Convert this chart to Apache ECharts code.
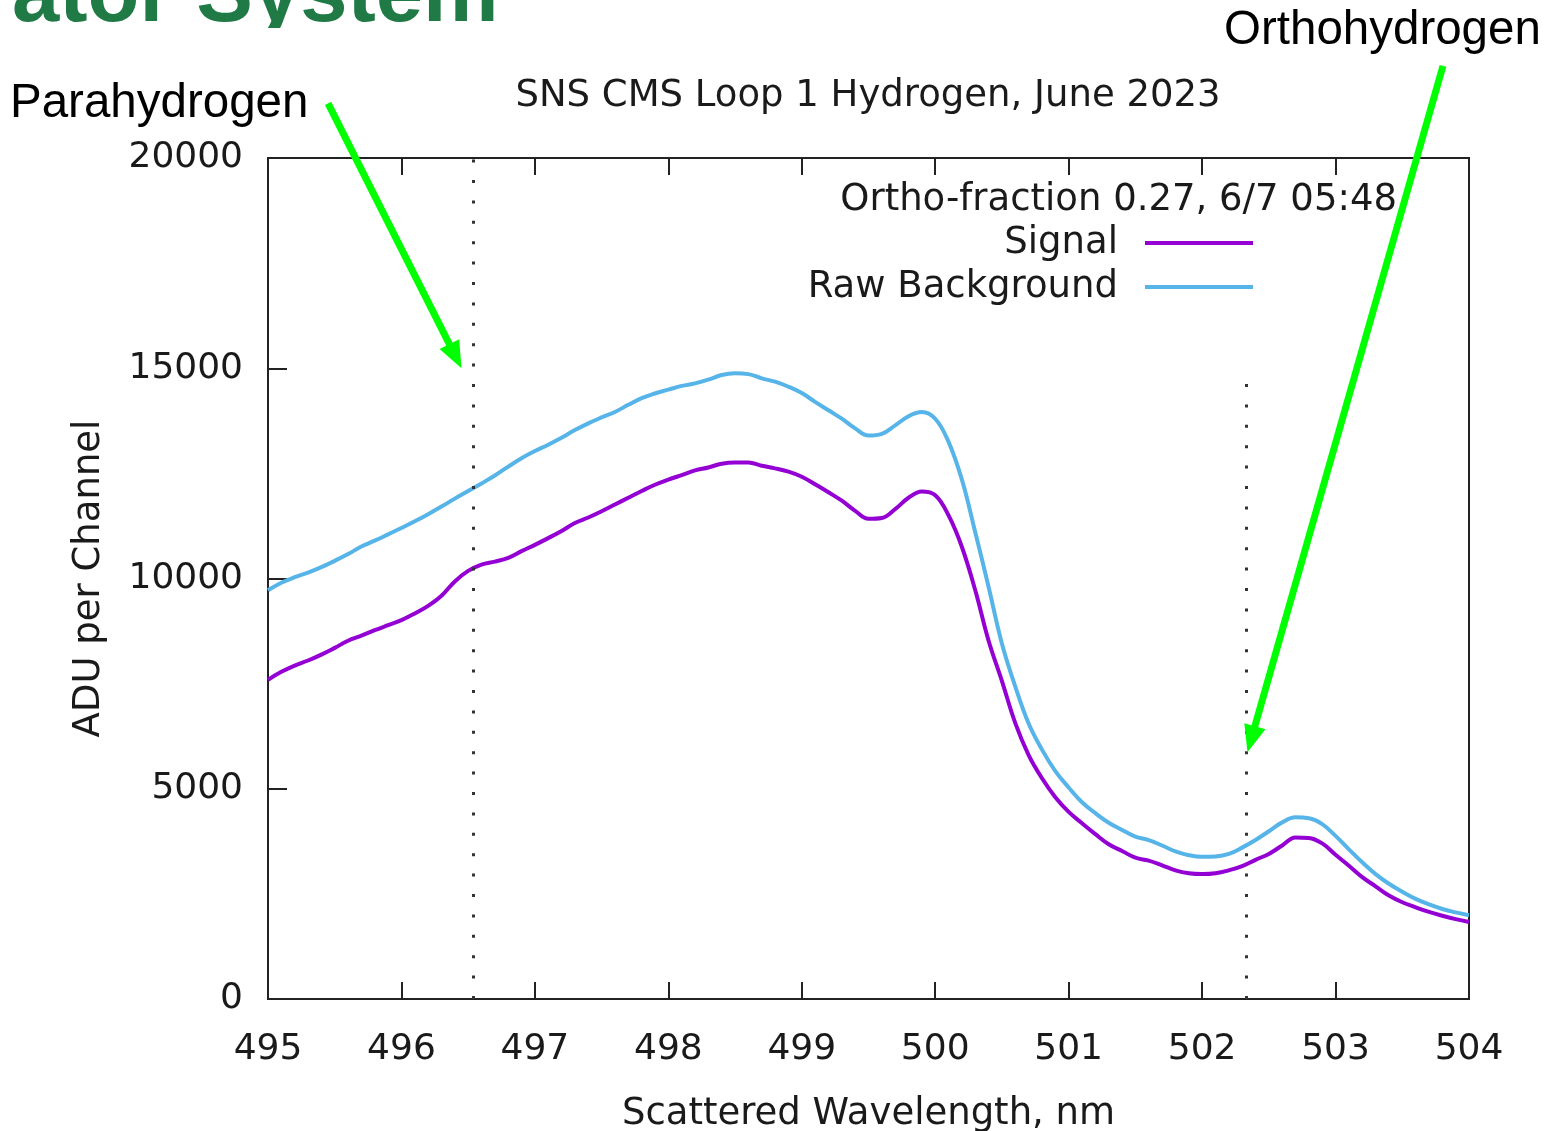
<!DOCTYPE html>
<html>
<head>
<meta charset="utf-8">
<script src="https://cdn.jsdelivr.net/npm/echarts@6/dist/echarts.min.js"></script>
<style>
html,body{margin:0;padding:0;background:#fff;}
#chart{width:1566px;height:1131px;}
</style>
</head>
<body>
<div id="chart"></div>
<script>
// ---- data ----
var wavelength = [
 495.0,495.1,495.2,495.3,495.4,495.5,495.6,495.7,495.8,495.9,
 496.0,496.1,496.2,496.3,496.4,496.5,496.6,496.7,496.8,496.9,
 497.0,497.1,497.2,497.3,497.4,497.5,497.6,497.7,497.8,497.9,
 498.0,498.1,498.2,498.3,498.4,498.5,498.6,498.7,498.8,498.9,
 499.0,499.1,499.2,499.3,499.4,499.5,499.6,499.7,499.8,499.9,
 500.0,500.1,500.2,500.3,500.4,500.5,500.6,500.7,500.8,500.9,
 501.0,501.1,501.2,501.3,501.4,501.5,501.6,501.7,501.8,501.9,
 502.0,502.1,502.2,502.3,502.4,502.5,502.6,502.7,502.8,502.9,
 503.0,503.1,503.2,503.3,503.4,503.5,503.6,503.7,503.8,503.9,
 504.0
];
var signal = [
 7590,7780,7930,8050,8190,8350,8520,8640,8770,8890,
 9010,9170,9350,9590,9930,10180,10330,10400,10490,10650,
 10800,10960,11130,11320,11450,11600,11760,11920,12080,12230,
 12350,12460,12570,12640,12730,12760,12760,12680,12620,12540,
 12420,12240,12050,11850,11610,11420,11440,11650,11920,12070,
 11980,11500,10750,9720,8520,7560,6560,5800,5250,4800,
 4450,4180,3920,3680,3520,3360,3290,3180,3060,2990,
 2970,2990,3060,3160,3310,3450,3650,3840,3830,3700,
 3430,3170,2900,2680,2460,2300,2180,2070,1980,1900,
 1830
];
var rawBackground = [
 9720,9900,10030,10140,10270,10420,10580,10760,10900,11050,
 11200,11360,11530,11710,11900,12080,12260,12450,12660,12860,
 13030,13180,13350,13530,13690,13830,13960,14130,14290,14400,
 14490,14580,14640,14730,14840,14880,14860,14760,14680,14560,
 14410,14200,14000,13800,13570,13400,13440,13640,13860,13960,
 13800,13250,12350,11100,9800,8450,7430,6550,5930,5420,
 5030,4680,4420,4190,4020,3860,3780,3650,3510,3420,
 3380,3390,3450,3600,3780,3990,4200,4320,4300,4160,
 3880,3560,3250,2970,2740,2550,2380,2250,2140,2060,
 1990
];
var seriesNames = ['Signal', 'Raw Background'];
var xTicks = [495, 496, 497, 498, 499, 500, 501, 502, 503, 504];
var yTicks = [0, 5000, 10000, 15000, 20000];
var lineMarks = [496.54, 502.33];          // dotted reference lines (nm)
var lineMarkTops = [20000, 14700];         // their upper ends (ADU)
var chartTitle = 'SNS CMS Loop 1 Hydrogen, June 2023';
var keyTitle = 'Ortho-fraction 0.27, 6/7 05:48';
var xName = 'Scattered Wavelength, nm';
var yName = 'ADU per Channel';
// annotation arrows: [start, tip] in data coordinates
var paraArrow = [[495.45, 21300], [496.45, 15000]];
var orthoArrow = [[503.805, 22190], [502.34, 5870]];

// ---- build ----
function pairs(xs, ys) { return xs.map(function (x, i) { return [x, ys[i]]; }); }
var FONT = '"DejaVu Sans", sans-serif';
var TXT = '#1a1a1a';
var AX = '#222';

var chart = echarts.init(document.getElementById('chart'), null, {renderer: 'canvas'});

var axisCommon = {
  type: 'value',
  axisLine: {show: true, onZero: false, lineStyle: {color: AX, width: 2}},
  axisTick: {show: true, inside: true, lineStyle: {color: AX, width: 2}},
  splitLine: {show: false},
  minorTick: {show: false}
};

var option = {
  animation: false,
  backgroundColor: '#fff',
  title: [
    {text: chartTitle, left: 868, top: 78, textAlign: 'center', padding: 0,
     textStyle: {fontSize: 37, fontWeight: 'normal', fontFamily: FONT, color: TXT}},
    {text: keyTitle, left: 1397, top: 182, textAlign: 'right', padding: 0,
     textStyle: {fontSize: 37, fontWeight: 'normal', fontFamily: FONT, color: TXT}}
  ],
  legend: {
    data: seriesNames.map(function (n) { return {name: n, icon: 'rect'}; }),
    orient: 'vertical',
    align: 'right',
    right: 313,
    top: 221,
    padding: 0,
    itemGap: 0,
    itemWidth: 108,
    itemHeight: 4,
    selectedMode: false,
    textStyle: {fontSize: 37, fontFamily: FONT, color: TXT, lineHeight: 44, padding: [0, 22, 0, 0]}
  },
  grid: {left: 268, top: 158, right: 97, bottom: 132, containLabel: false, outerBoundsMode: 'none',
         show: true, borderColor: AX, borderWidth: 2, backgroundColor: 'transparent'},
  xAxis: [
    Object.assign({}, axisCommon, {
      position: 'bottom', min: xTicks[0], max: xTicks[xTicks.length - 1], interval: 1,
      axisTick: {show: true, inside: true, length: 17, lineStyle: {color: AX, width: 2}},
      axisLabel: {show: true, fontSize: 36, fontFamily: FONT, color: TXT, margin: 33,
                  showMinLabel: true, showMaxLabel: true, hideOverlap: false,
                  formatter: function (v) { return String(v); }},
      name: xName, nameLocation: 'middle', nameGap: 97,
      nameTextStyle: {fontSize: 37, fontFamily: FONT, color: TXT}
    }),
    Object.assign({}, axisCommon, {
      position: 'top', min: xTicks[0], max: xTicks[xTicks.length - 1], interval: 1,
      axisTick: {show: true, inside: true, length: 17, lineStyle: {color: AX, width: 2}},
      axisLabel: {show: false}
    })
  ],
  yAxis: [
    Object.assign({}, axisCommon, {
      position: 'left', min: yTicks[0], max: yTicks[yTicks.length - 1], interval: 5000,
      axisTick: {show: true, inside: true, length: 19, lineStyle: {color: AX, width: 2}},
      axisLabel: {show: true, fontSize: 36, fontFamily: FONT, color: TXT, margin: 25,
                  padding: [6, 0, 0, 0],
                  showMinLabel: true, showMaxLabel: true, hideOverlap: false,
                  formatter: function (v) { return String(v); }},
      name: yName, nameLocation: 'middle', nameGap: 160, nameRotate: 90,
      nameTextStyle: {fontSize: 37, fontFamily: FONT, color: TXT}
    })
  ],
  series: [
    {
      name: seriesNames[0], type: 'line', xAxisIndex: 0, yAxisIndex: 0,
      data: pairs(wavelength, signal),
      symbol: 'none', showSymbol: false, smooth: 0.4, clip: true,
      color: '#9400d3',
      lineStyle: {color: '#9400d3', width: 4},
      markLine: {
        silent: true, symbol: ['none', 'none'], animation: false,
        label: {show: false},
        lineStyle: {color: '#333', width: 3, type: [3, 17.4]},
        data: lineMarks.map(function (x, i) {
          return [{coord: [x, 0]}, {coord: [x, lineMarkTops[i]]}];
        })
      }
    },
    {
      name: seriesNames[1], type: 'line', xAxisIndex: 0, yAxisIndex: 0,
      data: pairs(wavelength, rawBackground),
      symbol: 'none', showSymbol: false, smooth: 0.4, clip: true,
      color: '#56b4e9',
      lineStyle: {color: '#56b4e9', width: 4}
    }
  ]
};
chart.setOption(option);

// ---- annotation overlay (slide text + green arrows) ----
function arrowEls(arrow) {
  var s = chart.convertToPixel({gridIndex: 0}, arrow[0]);
  var t = chart.convertToPixel({gridIndex: 0}, arrow[1]);
  var dx = t[0] - s[0], dy = t[1] - s[1];
  var len = Math.sqrt(dx * dx + dy * dy);
  var ux = dx / len, uy = dy / len;
  var nx = -uy, ny = ux;
  var L = 27, W = 11;
  var bx = t[0] - L * ux, by = t[1] - L * uy;
  return [
    {type: 'line', z: 20, silent: true,
     shape: {x1: s[0], y1: s[1], x2: bx + 2 * ux, y2: by + 2 * uy},
     style: {stroke: '#00ff00', lineWidth: 7}},
    {type: 'polygon', z: 20, silent: true,
     shape: {points: [[t[0], t[1]], [bx + W * nx, by + W * ny], [bx - W * nx, by - W * ny]]},
     style: {fill: '#00ff00'}}
  ];
}

var g = [
  {type: 'text', z: 1, silent: true,
   style: {text: 'ator System', x: 12, y: -2.5, font: 'bold 85px "Liberation Sans", Arial, sans-serif',
           fill: '#1f7a45', textAlign: 'left', align: 'left', textVerticalAlign: 'middle', verticalAlign: 'middle'}},
  {type: 'rect', z: 2, silent: true, shape: {x: 0, y: 28, width: 530, height: 40}, style: {fill: '#fff'}},
  {type: 'text', z: 3, silent: true,
   style: {text: 'Parahydrogen', x: 10, y: 104, font: '47.5px "Liberation Sans", Arial, sans-serif',
           fill: '#000', textAlign: 'left', align: 'left', textVerticalAlign: 'middle', verticalAlign: 'middle'}},
  {type: 'text', z: 3, silent: true,
   style: {text: 'Orthohydrogen', x: 1224, y: 31, font: '47.5px "Liberation Sans", Arial, sans-serif',
           fill: '#000', textAlign: 'left', align: 'left', textVerticalAlign: 'middle', verticalAlign: 'middle'}}
].concat(arrowEls(paraArrow)).concat(arrowEls(orthoArrow));

chart.setOption({graphic: g});
</script>
</body>
</html>
